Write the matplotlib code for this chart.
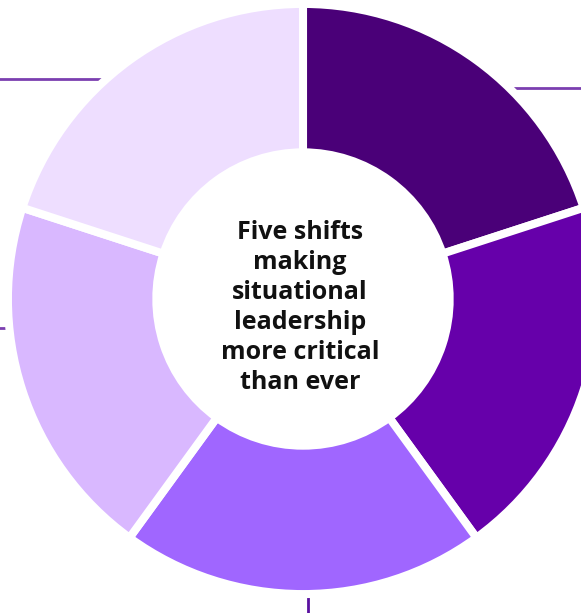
import numpy as np
import matplotlib.pyplot as plt

# Five equal shifts around the donut
shares = [1, 1, 1, 1, 1]
colors = ['#4a0078', '#6600aa', '#a066ff', '#d9b8ff', '#eedeff']
center_text = "Five shifts\nmaking\nsituational\nleadership\nmore critical\nthan ever"

# leader line stubs: angle on the ring (deg) and direction they run off to
leader_angles = [131.0, 46.5, 185.7, 271.0]
leader_dirs = ['left', 'right', 'left', 'down']

W, H = 581, 613
cx, cy, rpx = 303, 299, 291  # donut centre / radius in pixels

fig = plt.figure(figsize=(W / 100, H / 100), dpi=100)
ax = fig.add_axes([0, 0, 1, 1])
ax.set_xlim(-cx / rpx, (W - cx) / rpx)
ax.set_ylim(-(H - cy) / rpx, cy / rpx)
ax.set_aspect('equal')
ax.axis('off')

# leader lines first, so the ring sits over them
for ang, d in zip(leader_angles, leader_dirs):
    x0 = np.cos(np.radians(ang))
    y0 = np.sin(np.radians(ang))
    if d == 'left':
        ax.plot([ax.get_xlim()[0], x0], [y0, y0], color='#7b3fb0', lw=2, zorder=1)
    elif d == 'right':
        ax.plot([x0, ax.get_xlim()[1]], [y0, y0], color='#7b3fb0', lw=2, zorder=1)
    else:
        ax.plot([x0, x0], [y0, ax.get_ylim()[0]], color='#5a10a0', lw=2, zorder=1)

ax.pie(shares, colors=colors, startangle=90, counterclock=False,
       radius=1.014, center=(0, 0), frame=False,
       wedgeprops=dict(width=0.51, edgecolor='white', linewidth=5.8))
ax.set_xlim(-cx / rpx, (W - cx) / rpx)
ax.set_ylim(-(H - cy) / rpx, cy / rpx)

ax.text(-0.01, -0.03, center_text, ha='center', va='center', fontsize=18,
        fontweight='bold', family='Open Sans', color='#111111', linespacing=1.26)

fig.savefig('out.png', dpi=100)
